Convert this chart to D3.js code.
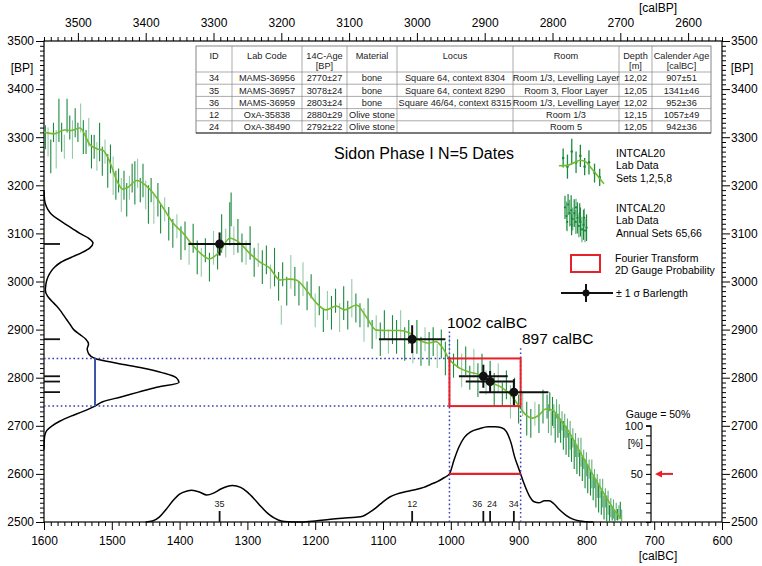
<!DOCTYPE html>
<html>
<head>
<meta charset="utf-8">
<script src="https://cdn.jsdelivr.net/npm/d3@7"></script>
<style>
body { margin: 0; background: #fff; }
svg { font-family: "Liberation Sans", Arial, sans-serif; }
</style>
</head>
<body>
<script>
'use strict'

// ---- data ----

// INTCAL20 smooth calibration curve [calBC, BP]
const curve = [[1600,3310],[1585,3307],[1570,3315],[1560,3314],[1547,3319],[1532,3284],[1520,3275],[1513,3273],
    [1503,3249],[1493,3211],[1484,3192],[1476,3196],[1463,3210],[1451,3201],[1439,3184],[1425,3155],[1410,3122],
    [1395,3101],[1381,3076],[1366,3055],[1356,3047],[1341,3062],[1326,3090],[1311,3080],[1297,3059],[1282,3041],
    [1267,3028],[1252,3003],[1238,3005],[1228,3003],[1213,2982],[1198,2955],[1184,2941],[1169,2949],[1157,2941],
    [1139,2951],[1125,2927],[1110,2899],[1095,2898],[1076,2898],[1061,2893],[1046,2878],[1032,2872],[1022,2875],
    [1012,2862],[1002,2838],[987,2820],[973,2812],[958,2806],[939,2789],[924,2779],[909,2760],[899,2740],[889,2722],
    [880,2716],[870,2722],[860,2735],[850,2733],[840,2715],[830,2697],[811,2650],[792,2602],[771,2552],[756,2519],[748,2506]]

// INTCAL20 lab data, sets 1,2,5,8 [calBC, BP, 1 sigma]
const intcalSets = [[1598,3300,25],[1594,3290,30],[1590,3260,35],[1586,3310,20],[1582,3275,40],[1578,3335,45],
    [1574,3300,30],[1570,3280,25],[1566,3345,35],[1562,3320,25],[1558,3295,40],[1554,3330,30],[1550,3310,20],
    [1546,3340,30],[1542,3300,35],[1538,3290,25],[1534,3310,30],[1530,3270,35],[1526,3280,25],[1522,3260,30],
    [1518,3290,40],[1514,3250,30],[1510,3270,25],[1506,3230,35],[1502,3255,30],[1498,3220,40],[1494,3200,30],
    [1490,3210,25],[1486,3180,35],[1482,3200,30],[1478,3170,35],[1474,3195,25],[1470,3215,30],[1466,3205,45],
    [1462,3225,30],[1458,3190,25],[1454,3210,35],[1450,3180,30],[1446,3160,40],[1442,3190,25],[1438,3150,30],
    [1432,3170,35],[1428,3130,30],[1422,3150,25],[1416,3120,35],[1410,3100,30],[1404,3115,25],[1398,3080,35],
    [1392,3095,30],[1386,3060,25],[1380,3090,30],[1374,3050,35],[1368,3040,30],[1362,3065,25],[1356,3030,30],
    [1350,3070,35],[1344,3055,30],[1338,3100,40],[1332,3080,30],[1326,3120,45],[1324,3150,35],[1320,3085,30],
    [1314,3095,35],[1308,3070,30],[1302,3060,25],[1296,3080,35],[1290,3040,30],[1284,3055,25],[1278,3030,35],
    [1272,3045,30],[1266,3010,25],[1260,3030,40],[1254,2990,30],[1250,2930,20],[1248,3015,25],[1242,2980,30],
    [1236,3020,35],[1230,3000,30],[1224,2975,25],[1218,3005,35],[1212,2970,30],[1206,2990,25],[1200,2940,35],
    [1194,2960,30],[1188,2920,25],[1182,2950,30],[1176,2935,35],[1170,2960,25],[1164,2925,30],[1158,2955,35],
    [1152,2930,30],[1146,2965,40],[1140,2945,30],[1134,2930,25],[1128,2910,35],[1122,2935,30],[1116,2890,30],
    [1110,2905,25],[1104,2880,35],[1098,2910,30],[1092,2875,25],[1086,2900,30],[1080,2885,35],[1074,2910,30],
    [1068,2870,35],[1062,2895,25],[1056,2860,30],[1050,2885,35],[1044,2855,30],[1038,2880,25],[1032,2860,35],
    [1026,2875,30],[1020,2845,25],[1014,2870,30],[1008,2840,35],[1002,2855,30],[996,2825,25],[990,2850,30],
    [984,2815,35],[978,2835,30],[972,2800,25],[966,2830,30],[960,2795,35],[954,2820,30],[948,2790,25],
    [942,2805,30],[936,2775,35],[930,2800,30],[924,2765,25],[918,2785,30],[912,2750,35],[906,2770,30],
    [900,2735,30],[894,2745,25],[888,2715,35],[882,2705,30],[876,2725,25],[870,2715,30],[864,2740,35]]

// INTCAL20 lab data, annual sets 65,66 [calBC, BP, 1 sigma]
const intcalAnnual = [[858,2740,25],[856,2715,30],[854,2750,20],[852,2705,25],[850,2730,30],[848,2720,25],
    [846,2695,30],[844,2735,20],[842,2700,25],[840,2715,30],[838,2690,25],[836,2710,20],[834,2680,30],
    [832,2700,25],[830,2670,30],[828,2695,20],[826,2660,25],[824,2680,30],[822,2650,25],[820,2675,20],
    [818,2640,30],[816,2660,25],[814,2630,30],[812,2655,20],[810,2620,25],[808,2645,30],[806,2610,25],
    [804,2630,20],[802,2600,30],[800,2620,25],[798,2590,30],[796,2610,20],[794,2580,25],[792,2600,30],
    [790,2570,25],[788,2590,20],[786,2560,30],[784,2575,25],[782,2550,30],[780,2570,20],[778,2540,25],
    [776,2560,30],[774,2530,25],[772,2550,20],[770,2525,30],[768,2540,25],[766,2515,20],[764,2530,20],
    [762,2518,15],[760,2527,20],[758,2512,12],[756,2522,18],[754,2515,12],[752,2520,15],[750,2524,18],[748,2514,12]]

// Sidon samples
const sampleId = ['34', '35', '36', '12', '24']
const labCode = ['MAMS-36956', 'MAMS-36957', 'MAMS-36959', 'OxA-35838', 'OxA-38490']
const c14Age = ['2770±27', '3078±24', '2803±24', '2880±29', '2792±22']
const material = ['bone', 'bone', 'bone', 'Olive stone', 'Olive stone']
const locus = ['Square 64, context 8304', 'Square 64, context 8290', 'Square 46/64, context 8315', '', '']
const room = ['Room 1/3, Levelling Layer', 'Room 3, Floor Layer', 'Room 1/3, Levelling Layer', 'Room 1/3', 'Room 5']
const depth = ['12,02', '12,05', '12,02', '12,15', '12,05']
const calAge = ['907±51', '1341±46', '952±36', '1057±49', '942±36']
const sampleBP = [2770, 3078, 2803, 2880, 2792]
const sampleBPErr = [27, 24, 24, 29, 22]
const sampleBC = [907, 1341, 952, 1057, 942]
const sampleBCErr = [51, 46, 36, 49, 36]

// summed 14C probability (left) [BP, relative]
const bpProb = [[3190,0],[3170,0.004],[3160,0.012],[3150,0.028],[3140,0.055],[3130,0.1],[3120,0.155],[3110,0.21],
    [3100,0.265],[3090,0.33],[3080,0.363],[3070,0.34],[3060,0.28],[3050,0.2],[3040,0.125],[3030,0.08],[3020,0.05],
    [3010,0.03],[3000,0.018],[2990,0.012],[2982,0.01],[2970,0.025],[2960,0.055],[2950,0.09],[2940,0.12],
    [2930,0.145],[2920,0.17],[2910,0.195],[2900,0.22],[2890,0.265],[2880,0.31],[2870,0.33],[2860,0.32],
    [2850,0.33],[2840,0.378],[2830,0.54],[2820,0.73],[2810,0.88],[2800,0.98],[2790,1.0],[2780,0.835],[2770,0.7],
    [2760,0.57],[2750,0.435],[2741,0.378],[2730,0.29],[2720,0.2],[2710,0.12],[2700,0.06],[2690,0.02],
    [2680,0.006],[2670,0.002],[2650,0]]

// calendar probability (bottom) [calBC, %]
const calProb = [[1450,0],[1440,1],[1430,5],[1420,13],[1410,22],[1400,29],[1390,32],[1382,33],[1370,31],
    [1360,28],[1350,30],[1340,34],[1330,37],[1322,38],[1310,36],[1300,31],[1290,24],[1280,16],[1270,9],
    [1260,4],[1250,1],[1240,0.3],[1220,0],[1200,1],[1180,2.5],[1160,4],[1140,5],[1130,6],[1120,10],[1110,15],
    [1100,21],[1090,26],[1080,29],[1070,31],[1060,32.5],[1050,34],[1040,36],[1030,39],[1020,42],[1010,46],
    [1002,50],[995,65],[988,78],[980,88],[970,94],[958,97],[945,99],[935,99],[925,98],[918,94],[911,82],
    [906,68],[900,56],[897,50],[892,40],[884,27],[877,21],[870,20],[862,22],[855,22],[848,19],[840,13],
    [830,7],[820,3],[810,1],[800,0.3],[790,0]]

// 2D gauge range
const rangeBC = [1002, 897]
const rangeBP = [2840, 2741]
const gaugeLevel = 50
const bpGauge = 0.378

// ---- layout ----

const width = 762
const height = 566
const pL = 44, pR = 722, pT = 41, pB = 522
const font = '"Liberation Sans", Arial, sans-serif'

const x = d3.scaleLinear().domain([1600, 600]).range([pL, pR])
const xBP = d3.scaleLinear().domain([3550, 2550]).range([pL, pR])
const y = d3.scaleLinear().domain([2500, 3500]).range([pB, pT])
const gauge = d3.scaleLinear().domain([0, 100]).range([pB, y(2700)])
const px = d3.scaleLinear().domain([0, 1]).range([pL, 179])

const svg = d3.select('body').append('svg').attr('width', width).attr('height', height)

svg.append('clipPath').attr('id', 'plot')
    .append('rect').attr('x', pL).attr('y', pT).attr('width', pR - pL).attr('height', pB - pT)

// ---- axes ----

const isMajor = d => d % 100 === 0

function tidy(g) {
    g.select('.domain').remove()
    g.attr('font-size', 12).attr('font-family', font)
    g.selectAll('.tick line').attr('stroke', '#000').attr('stroke-width', 1)
}

svg.append('g').attr('transform', `translate(0,${pB})`)
    .call(d3.axisBottom(x).tickValues(d3.range(600, 1601, 10)).tickFormat(d => isMajor(d) ? d : ''))
    .call(tidy)
    .call(g => {
        g.selectAll('.tick line').attr('y2', d => isMajor(d) ? 8 : 4)
        g.selectAll('.tick text').attr('y', 23).attr('dy', null)
    })

svg.append('g').attr('transform', `translate(0,${pT})`)
    .call(d3.axisTop(xBP).tickValues(d3.range(2550, 3551, 10)).tickFormat(d => isMajor(d) ? d : ''))
    .call(tidy)
    .call(g => {
        g.selectAll('.tick line').attr('y2', d => isMajor(d) ? -8 : -4)
        g.selectAll('.tick text').attr('y', -14).attr('dy', null)
    })

svg.append('g').attr('transform', `translate(${pL},0)`)
    .call(d3.axisLeft(y).tickValues(d3.range(2500, 3501, 10)).tickFormat(d => isMajor(d) ? d : ''))
    .call(tidy)
    .call(g => {
        g.selectAll('.tick line').attr('x2', d => isMajor(d) ? -8 : -4)
        g.selectAll('.tick text').attr('x', -10)
    })

svg.append('g').attr('transform', `translate(${pR},0)`)
    .call(d3.axisRight(y).tickValues(d3.range(2500, 3501, 10)).tickFormat(d => isMajor(d) ? d : ''))
    .call(tidy)
    .call(g => {
        g.selectAll('.tick line').attr('x2', d => isMajor(d) ? 8 : 4)
        g.selectAll('.tick text').attr('x', 9)
    })

svg.append('rect').attr('x', pL).attr('y', pT).attr('width', pR - pL).attr('height', pB - pT)
    .attr('fill', 'none').attr('stroke', '#000').attr('stroke-width', 1.2)

const label = (tx, ty, txt, size = 12, anchor = 'middle') => svg.append('text')
    .attr('x', tx).attr('y', ty).attr('font-size', size).attr('text-anchor', anchor)
    .attr('font-family', font).text(txt)

label(658, 12, '[calBP]')
label(658, 560, '[calBC]')
label(22, 72, '[BP]')
label(742, 72, '[BP]')

// ---- INTCAL data ----

const plot = svg.append('g').attr('clip-path', 'url(#plot)')

plot.append('g').selectAll('line').data(intcalSets).join('line')
    .attr('x1', d => x(d[0])).attr('x2', d => x(d[0]))
    .attr('y1', d => y(d[1] + d[2])).attr('y2', d => y(d[1] - d[2]))
    .attr('stroke', (d, i) => i % 3 === 1 ? '#4fa66a' : '#1b8a3e')
    .attr('stroke-opacity', (d, i) => i % 3 === 1 ? 0.6 : 1)
    .attr('stroke-width', 1.1)

plot.append('g').selectAll('line').data(intcalAnnual).join('line')
    .attr('x1', d => x(d[0])).attr('x2', d => x(d[0]))
    .attr('y1', d => y(d[1] + d[2])).attr('y2', d => y(d[1] - d[2]))
    .attr('stroke', (d, i) => i % 2 ? '#5fae78' : '#178a38')
    .attr('stroke-width', 1.1)

plot.append('path').datum(curve)
    .attr('d', d3.line().x(d => x(d[0])).y(d => y(d[1])).curve(d3.curveMonotoneX))
    .attr('fill', 'none').attr('stroke', '#72bb2e').attr('stroke-width', 1.6)

// ---- probability curves ----

svg.append('path').datum(bpProb)
    .attr('d', d3.line().x(d => px(d[1])).y(d => y(d[0])).curve(d3.curveMonotoneY))
    .attr('fill', 'none').attr('stroke', '#000').attr('stroke-width', 1.5)

svg.append('path').datum(calProb)
    .attr('d', d3.line().x(d => x(d[0])).y(d => gauge(d[1])).curve(d3.curveMonotoneX))
    .attr('fill', 'none').attr('stroke', '#000').attr('stroke-width', 1.5)

// gauge range lines
const blueDots = '1.6,2.6'
rangeBP.forEach(bp => {
    svg.append('line').attr('x1', pL).attr('x2', x(rangeBC[0])).attr('y1', y(bp)).attr('y2', y(bp))
        .attr('stroke', '#3a3db5').attr('stroke-width', 1.5).attr('stroke-dasharray', blueDots)
})
svg.append('line').attr('x1', x(rangeBC[0])).attr('x2', x(rangeBC[0])).attr('y1', pB).attr('y2', 331)
    .attr('stroke', '#3a3db5').attr('stroke-width', 1.5).attr('stroke-dasharray', blueDots)
svg.append('line').attr('x1', x(rangeBC[1])).attr('x2', x(rangeBC[1])).attr('y1', pB).attr('y2', 347)
    .attr('stroke', '#3a3db5').attr('stroke-width', 1.5).attr('stroke-dasharray', blueDots)

svg.append('line').attr('x1', px(bpGauge)).attr('x2', px(bpGauge))
    .attr('y1', y(rangeBP[0])).attr('y2', y(rangeBP[1]))
    .attr('stroke', '#3b55a8').attr('stroke-width', 2)

svg.append('line').attr('x1', x(rangeBC[0])).attr('x2', x(rangeBC[1]))
    .attr('y1', gauge(gaugeLevel)).attr('y2', gauge(gaugeLevel))
    .attr('stroke', '#e8202a').attr('stroke-width', 2.2)

svg.append('rect').attr('x', x(rangeBC[0])).attr('y', y(rangeBP[0]))
    .attr('width', x(rangeBC[1]) - x(rangeBC[0])).attr('height', y(rangeBP[1]) - y(rangeBP[0]))
    .attr('fill', 'none').attr('stroke', '#e8202a').attr('stroke-width', 2)

label(447, 328, rangeBC[0] + ' calBC', 15.5, 'start')
label(522, 344, rangeBC[1] + ' calBC', 15.5, 'start')

// ---- samples ----

const samples = sampleId.map((id, i) => ({
    id, bp: sampleBP[i], bpErr: sampleBPErr[i], bc: sampleBC[i], bcErr: sampleBCErr[i]
}))

const cross = svg.append('g')
cross.append('g').selectAll('line').data(samples).join('line')
    .attr('x1', d => x(d.bc + d.bcErr)).attr('x2', d => x(d.bc - d.bcErr))
    .attr('y1', d => y(d.bp)).attr('y2', d => y(d.bp))
    .attr('stroke', '#111').attr('stroke-width', 2)
cross.append('g').selectAll('line').data(samples).join('line')
    .attr('x1', d => x(d.bc)).attr('x2', d => x(d.bc))
    .attr('y1', d => y(d.bp + d.bpErr)).attr('y2', d => y(d.bp - d.bpErr))
    .attr('stroke', '#111').attr('stroke-width', 2)
cross.append('g').selectAll('circle').data(samples).join('circle')
    .attr('cx', d => x(d.bc)).attr('cy', d => y(d.bp)).attr('r', 4.5).attr('fill', '#111')

// sample BP ticks on the left axis
svg.append('g').selectAll('line').data(samples).join('line')
    .attr('x1', pL).attr('x2', pL + 16).attr('y1', d => y(d.bp)).attr('y2', d => y(d.bp))
    .attr('stroke', '#111').attr('stroke-width', 1.8)

// sample calendar ticks on the bottom axis
svg.append('g').selectAll('line').data(samples).join('line')
    .attr('x1', d => x(d.bc)).attr('x2', d => x(d.bc)).attr('y1', pB).attr('y2', pB - 11)
    .attr('stroke', '#111').attr('stroke-width', 1.8)
const idShift = { '36': -6, '24': 2 }
svg.append('g').selectAll('text').data(samples).join('text')
    .attr('x', d => x(d.bc) + (idShift[d.id] || 0)).attr('y', pB - 15)
    .attr('text-anchor', 'middle').attr('font-size', 9).attr('font-family', font).attr('fill', '#222')
    .text(d => d.id)

// ---- gauge scale ----

const gaugeX = 651
svg.append('g').attr('transform', `translate(${gaugeX},0)`)
    .call(d3.axisLeft(gauge).tickValues(d3.range(0, 101, 10)).tickSize(5).tickFormat(''))
    .call(g => {
        g.select('.domain').attr('d', `M0,${gauge(0)}V${gauge(100)}H-5`).attr('stroke', '#000').attr('stroke-width', 1.2)
        g.selectAll('.tick line').attr('stroke', '#000').attr('stroke-width', 1.1)
    })
label(643, gauge(100) + 4, '100', 11, 'end')
label(643, gauge(50) + 4, '50', 11, 'end')
label(643, gauge(82) + 4, '[%]', 10.5, 'end')
label(658, 418, 'Gauge = 50%', 10.5)

svg.append('line').attr('x1', 673).attr('x2', 661).attr('y1', gauge(gaugeLevel)).attr('y2', gauge(gaugeLevel))
    .attr('stroke', '#e8202a').attr('stroke-width', 2)
svg.append('path').attr('d', `M655,${gauge(gaugeLevel)}l7,-3.5v7z`).attr('fill', '#e8202a')

// ---- title ----

label(334, 159, 'Sidon Phase I N=5 Dates', 16, 'start')

// ---- table ----

const colX = [196, 232, 302, 347, 397, 513, 619, 652, 711]
const tableTop = 46, headBottom = 72, rowH = 12.2
const headers = [['ID'], ['Lab Code'], ['14C-Age', '[BP]'], ['Material'], ['Locus'], ['Room'], ['Depth', '[m]'],
    ['Calender Age', '[calBC]']]
const columns = [sampleId, labCode, c14Age, material, locus, room, depth, calAge]
const tableBottom = headBottom + rowH * sampleId.length

const table = svg.append('g').attr('font-family', font).attr('font-size', 9.2).attr('fill', '#222')
table.append('rect').attr('x', colX[0]).attr('y', tableTop).attr('width', colX[8] - colX[0])
    .attr('height', tableBottom - tableTop).attr('fill', '#fff').attr('stroke', '#666').attr('stroke-width', 0.8)
colX.slice(1, -1).forEach(cx => table.append('line').attr('x1', cx).attr('x2', cx)
    .attr('y1', tableTop).attr('y2', tableBottom).attr('stroke', '#888').attr('stroke-width', 0.7))
d3.range(sampleId.length).forEach(r => table.append('line').attr('x1', colX[0]).attr('x2', colX[8])
    .attr('y1', headBottom + r * rowH).attr('y2', headBottom + r * rowH).attr('stroke', '#888').attr('stroke-width', 0.7))
table.append('line').attr('x1', colX[0]).attr('x2', colX[8]).attr('y1', tableBottom).attr('y2', tableBottom)
    .attr('stroke', '#333').attr('stroke-width', 1.2)

headers.forEach((lines, c) => {
    const cx = (colX[c] + colX[c + 1]) / 2
    lines.forEach((t, k) => table.append('text').attr('x', cx).attr('y', 59 + k * 9.5)
        .attr('text-anchor', 'middle').text(t))
})
columns.forEach((col, c) => {
    const cx = (colX[c] + colX[c + 1]) / 2
    col.forEach((t, r) => table.append('text').attr('x', cx).attr('y', headBottom + r * rowH + 9.3)
        .attr('text-anchor', 'middle').text(t))
})

// ---- legend ----

const legend = svg.append('g')
const lx = d3.scaleLinear().domain([0, 10]).range([561, 604])
const ly = d3.scaleLinear().domain([0, 10]).range([143, 186])

// glyph 1: a few lab points and the curve
const legendSet = [[0.5, 3.5, 2.2], [1.5, 5.5, 2.8], [2.5, 2, 3], [3.5, 4.5, 2.5], [4.5, 3, 2.6], [5.5, 5.5, 2],
    [6.5, 4.5, 2.8], [7.8, 7, 2.2], [9, 8, 2]]
const legendCurve = [[-0.5, 5.3], [1.5, 5.2], [3, 4.6], [4.5, 4], [5.8, 4.4], [7, 5.8], [8.5, 7.6], [10, 9.5]]
legend.append('g').selectAll('line').data(legendSet).join('line')
    .attr('x1', d => lx(d[0])).attr('x2', d => lx(d[0]))
    .attr('y1', d => ly(d[1] - d[2])).attr('y2', d => ly(d[1] + d[2]))
    .attr('stroke', '#1b8a3e').attr('stroke-width', 1.3)
legend.append('g').selectAll('circle').data(legendSet).join('circle')
    .attr('cx', d => lx(d[0])).attr('cy', d => ly(d[1])).attr('r', 1.3).attr('fill', '#1b8a3e')
legend.append('path').datum(legendCurve)
    .attr('d', d3.line().x(d => lx(d[0])).y(d => ly(d[1])).curve(d3.curveMonotoneX))
    .attr('fill', 'none').attr('stroke', '#72bb2e').attr('stroke-width', 1.6)

// glyph 2: dense annual points
const lx2 = d3.scaleLinear().domain([0, 10]).range([565, 587])
const ly2 = d3.scaleLinear().domain([0, 10]).range([190, 248])
const legendAnnual = [[0, 3, 2], [0.7, 4.5, 2.5], [1.4, 2.5, 1.8], [2.1, 4, 2.3], [2.8, 3.5, 2.6], [3.5, 5, 2],
    [4.2, 4, 2.4], [4.9, 5.5, 2.1], [5.6, 4.8, 2.7], [6.3, 6.2, 2], [7, 5.5, 2.5], [7.7, 6.8, 2.2], [8.4, 6, 2.6],
    [9.1, 7, 2], [9.8, 6.5, 2.3], [1, 5.5, 1.6], [3, 6, 1.8], [5, 3, 1.5], [6.7, 4, 1.7], [8.8, 4.8, 1.6]]
legend.append('g').selectAll('line').data(legendAnnual).join('line')
    .attr('x1', d => lx2(d[0])).attr('x2', d => lx2(d[0]))
    .attr('y1', d => ly2(d[1] - d[2])).attr('y2', d => ly2(d[1] + d[2]))
    .attr('stroke', (d, i) => i % 2 ? '#5fae78' : '#178a38').attr('stroke-width', 1.2)
legend.append('g').selectAll('circle').data(legendAnnual).join('circle')
    .attr('cx', d => lx2(d[0])).attr('cy', d => ly2(d[1])).attr('r', 1.1).attr('fill', '#178a38')

// glyph 3 and 4
legend.append('rect').attr('x', 571).attr('y', 255).attr('width', 29).attr('height', 17)
    .attr('fill', 'none').attr('stroke', '#e8202a').attr('stroke-width', 2)
legend.append('line').attr('x1', 561).attr('x2', 613).attr('y1', 293).attr('y2', 293)
    .attr('stroke', '#111').attr('stroke-width', 2)
legend.append('line').attr('x1', 586).attr('x2', 586).attr('y1', 284).attr('y2', 302)
    .attr('stroke', '#111').attr('stroke-width', 2)
legend.append('circle').attr('cx', 586).attr('cy', 293).attr('r', 3.5).attr('fill', '#111')

const legendText = [
    [616, 157, ['INTCAL20', 'Lab Data', 'Sets 1,2,5,8']],
    [616, 212, ['INTCAL20', 'Lab Data', 'Annual Sets 65,66']],
    [615, 262, ['Fourier Transform', '2D Gauge Probability']],
    [616, 297, ['± 1 σ Barlength']]
]
legendText.forEach(([tx, ty, lines]) => lines.forEach((t, k) => label(tx, ty + k * 12.3, t, 10.5, 'start')))
</script>
</body>
</html>
